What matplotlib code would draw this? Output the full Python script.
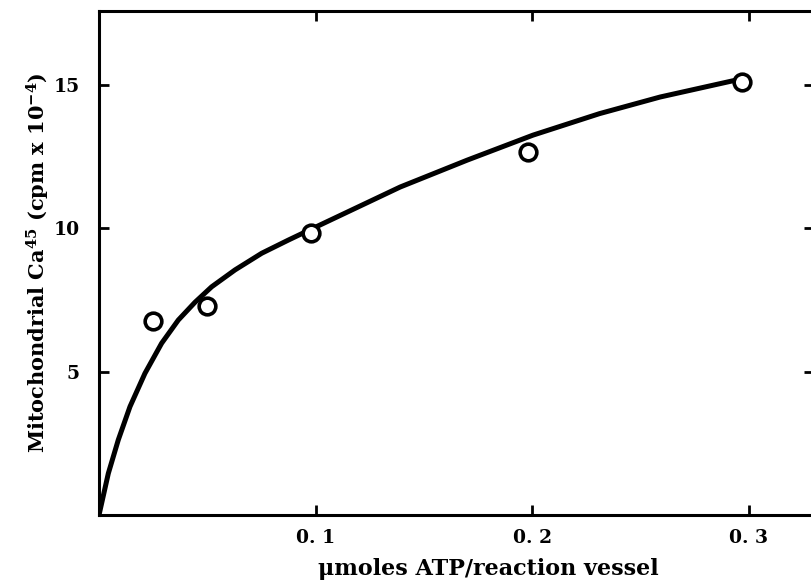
import numpy as np
import matplotlib.pyplot as plt

plt.rcParams['font.family'] = ['DejaVu Serif']
plt.rcParams['font.weight'] = 'bold'
plt.rcParams['mathtext.fontset'] = 'custom'
plt.rcParams['mathtext.rm'] = 'DejaVu Serif:bold'
plt.rcParams['mathtext.bf'] = 'DejaVu Serif:bold'
plt.rcParams['mathtext.default'] = 'bf'

# measured points (umoles ATP, cpm x 1e-4)
atp = [0.025, 0.050, 0.098, 0.198, 0.297]
ca45 = [6.75, 7.3, 9.85, 12.65, 15.1]

# hand drawn curve
curve_x = [0, 0.0043, 0.0089, 0.0143, 0.0212, 0.0289, 0.0366, 0.0443, 0.052,
           0.0628, 0.0751, 0.0874, 0.096, 0.139, 0.170, 0.2003, 0.231, 0.259, 0.294]
curve_y = [0, 1.45, 2.62, 3.78, 4.94, 5.99, 6.80, 7.42, 7.96,
           8.55, 9.13, 9.59, 9.90, 11.44, 12.38, 13.25, 14.0, 14.58, 15.17]

xticks = [0.1, 0.2, 0.3]
xticklabels = ['0. 1', '0. 2', '0. 3']
yticks = [5, 10, 15]

fig = plt.figure(figsize=(8.12, 5.85), dpi=100)
ax = fig.add_axes([99/812, 70/585, 715/812, 504/585])

ax.plot(curve_x, curve_y, color='black', lw=3.6, solid_capstyle='round',
        solid_joinstyle='round')
ax.plot(atp, ca45, 'o', ms=12, mfc='white', mec='black', mew=2.6)

ax.set_xlim(0, 0.33)
ax.set_ylim(0, 17.58)
ax.set_xticks(xticks)
ax.set_xticklabels(xticklabels)
ax.set_yticks(yticks)

for s in ax.spines.values():
    s.set_linewidth(2.2)
ax.tick_params(direction='in', length=7, width=2, top=True, right=True,
               labelsize=13.5, pad=10)
ax.tick_params(axis='y', pad=14)

ax.set_xlabel('\u03bcmoles ATP/reaction vessel', fontsize=16, fontweight='bold')
ax.xaxis.set_label_coords(0.545, -0.085)
ax.set_ylabel(r'Mitochondrial Ca$^{45}$ (cpm x 10$^{-4}$)', fontsize=15,
              fontweight='bold', labelpad=1)

fig.savefig('out.png', dpi=100)
